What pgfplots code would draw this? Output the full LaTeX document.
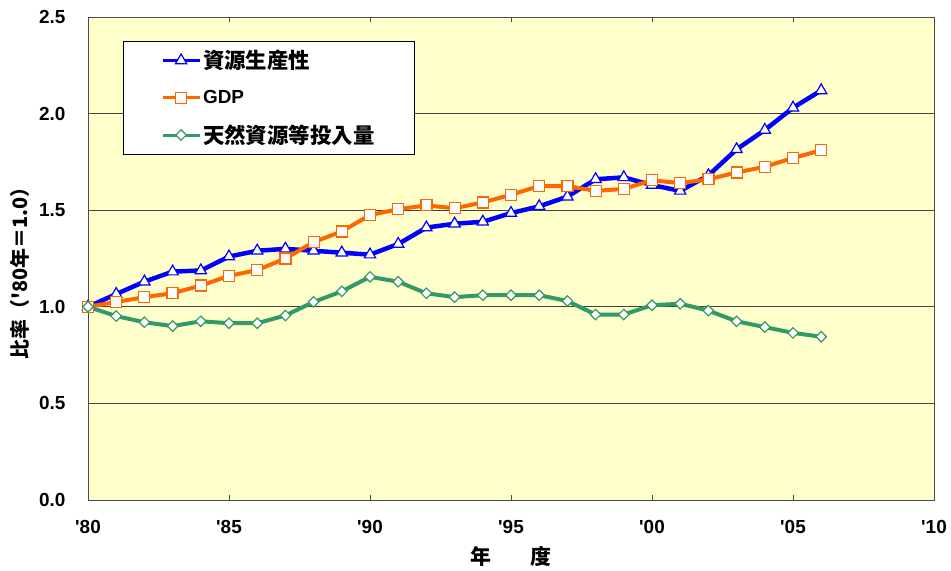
\documentclass[border=0pt]{standalone}
\usepackage{fontspec}
\setmainfont{Liberation Sans}
\newfontfamily\cjk{Noto Sans CJK JP}
\usepackage{pgfplots}
\usepackage{pgfplotstable}
\pgfplotsset{compat=1.18}

\definecolor{bgyellow}{HTML}{FFFFCC}
\definecolor{prodblue}{HTML}{0000FF}
\definecolor{gdporange}{HTML}{FF6600}
\definecolor{inputgreen}{HTML}{339966}

% Ratio to fiscal 1980 (= 1.0)
\pgfplotstableread{
year prod gdp input
1980 1.000 1.000 1.000
1981 1.066 1.025 0.952
1982 1.130 1.050 0.920
1983 1.182 1.070 0.900
1984 1.188 1.110 0.925
1985 1.260 1.160 0.915
1986 1.290 1.190 0.915
1987 1.300 1.250 0.955
1988 1.290 1.335 1.025
1989 1.280 1.390 1.080
1990 1.270 1.475 1.155
1991 1.325 1.505 1.130
1992 1.410 1.525 1.070
1993 1.430 1.510 1.050
1994 1.440 1.540 1.060
1995 1.485 1.580 1.060
1996 1.520 1.625 1.060
1997 1.570 1.625 1.030
1998 1.660 1.600 0.960
1999 1.670 1.610 0.960
2000 1.630 1.655 1.008
2001 1.600 1.640 1.016
2002 1.680 1.660 0.980
2003 1.815 1.695 0.925
2004 1.915 1.725 0.895
2005 2.030 1.770 0.865
2006 2.120 1.810 0.845
}\ratios

\begin{document}
\begin{tikzpicture}
\useasboundingbox (-88bp,-71bp) rectangle (863bp,500bp);
\begin{axis}[
  at={(0,0)}, anchor=south west,
  scale only axis, width=846bp, height=483bp,
  xmin=1980, xmax=2010, ymin=0, ymax=2.5,
  xtick={1980,1985,...,2010},
  xticklabels={\textquotesingle80,\textquotesingle85,\textquotesingle90,\textquotesingle95,\textquotesingle00,\textquotesingle05,\textquotesingle10},
  ytick={0,0.5,1,1.5,2,2.5},
  yticklabel style={/pgf/number format/fixed, /pgf/number format/fixed zerofill,
    /pgf/number format/precision=1, xshift=-19bp},
  /pgf/number format/assume math mode=true,
  ticklabel style={font=\fontsize{19}{20}\selectfont\bfseries},
  xticklabel style={yshift=-17bp},
  ymajorgrids,
  grid style={draw=black!75, line width=0.8bp},
  axis background/.style={fill=bgyellow},
  axis line style={draw=black!70, line width=0.8bp},
  tick style={draw=black!70, line width=0.8bp},
  major tick length=5bp, tick align=inside,
  xlabel={\cjk\bfseries 年\hspace{1.9em}度},
  xlabel style={at={(axis description cs:0.5,-0.118)}, anchor=center, font=\fontsize{21}{22}\selectfont},
  ylabel={\cjk\bfseries 比率（'80年＝1.0）},
  ylabel style={at={(axis description cs:-0.08,0.48)}, anchor=center, font=\fontsize{20}{22}\selectfont},
  legend style={at={(axis description cs:0.041,0.95)}, anchor=north west,
    draw=black, fill=white, line width=0.8bp,
    font=\fontsize{21.5}{23}\selectfont\bfseries,
    inner xsep=38bp, inner ysep=7bp, row sep=16bp},
  legend cell align=left,
  legend image code/.code={\draw[mark repeat=2,mark phase=2,#1,line width=3bp] plot coordinates {(0bp,0bp) (18.5bp,0bp) (37bp,0bp)};},
]
\addplot[prodblue, line width=4.5bp, mark=triangle*, mark size=6.5bp,
  mark options={fill=white, draw=prodblue, line width=1.2bp, solid}]
  table[x=year, y=prod] {\ratios};
\addlegendentry{\cjk\bfseries 資源生産性}
\addplot[gdporange, line width=4bp, mark=square*, mark size=5.5bp,
  mark options={fill=white, draw=gdporange, line width=1.2bp, solid}]
  table[x=year, y=gdp] {\ratios};
\addlegendentry{\fontsize{19}{20}\selectfont GDP}
\addplot[inputgreen, line width=4bp, mark=square*, mark size=3.7bp,
  mark options={fill=white, draw=inputgreen, line width=1.2bp, solid, rotate=45}]
  table[x=year, y=input] {\ratios};
\addlegendentry{\cjk\bfseries 天然資源等投入量}
\end{axis}
\end{tikzpicture}
\end{document}
